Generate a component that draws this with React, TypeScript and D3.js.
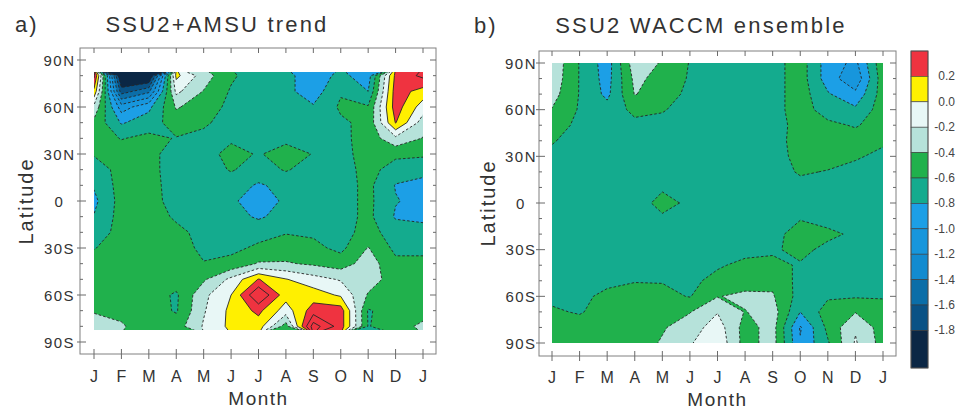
import React, { useEffect, useRef } from "react";
import * as d3 from "d3";

const monthLabels = ["J", "F", "M", "A", "M", "J", "J", "A", "S", "O", "N", "D", "J"];
const latTickValues = [90, 60, 30, 0, -30, -60, -90];
const latTickLabels = ["90N", "60N", "30N", "0", "30S", "60S", "90S"];
const latMinorTicks = d3.range(90, -91, -10);

// contour levels, and the colour of each band from the lowest up
const levels = [-1.8, -1.6, -1.4, -1.2, -1.0, -0.8, -0.6, -0.4, -0.2, 0.0, 0.2];
const extraLines = [0.4, 0.6];
const bandColors = [
  "#0b2745", "#0a5285", "#0b6ea8", "#128bd0", "#1796dc", "#1c9fe6",
  "#14ab8e", "#20b14c", "#b6e2da", "#e8f7f6", "#fff000", "#ef3340",
];
const barLabels = ["0.2", "0.0", "-0.2", "-0.4", "-0.6", "-0.8", "-1.0", "-1.2", "-1.4", "-1.6", "-1.8"];

// a) SSU2+AMSU trend, rows 80N..80S, columns J..J
const latsA = [80, 70, 60, 50, 40, 30, 20, 10, 0, -10, -20, -30, -40, -50, -60, -70, -80];
const trendA = [
  [0.45, -2.1, -2.1, 0.05, -0.3, -0.57, -0.7, -0.75, -0.9, -0.75, -0.9, 0.25, 0.45],
  [0.15, -1.7, -1.45, -0.15, -0.41, -0.62, -0.7, -0.75, -0.9, -0.62, -0.8, 0.3, 0.12],
  [-0.25, -1.1, -0.85, -0.38, -0.5, -0.65, -0.7, -0.75, -0.78, -0.57, -0.58, 0.3, -0.1],
  [-0.45, -0.82, -0.7, -0.5, -0.57, -0.68, -0.7, -0.7, -0.72, -0.63, -0.55, 0.21, -0.3],
  [-0.5, -0.61, -0.55, -0.61, -0.65, -0.64, -0.7, -0.66, -0.7, -0.65, -0.52, -0.25, -0.41],
  [-0.58, -0.5, -0.5, -0.75, -0.7, -0.52, -0.62, -0.5, -0.61, -0.68, -0.5, -0.55, -0.57],
  [-0.72, -0.52, -0.5, -0.75, -0.72, -0.58, -0.7, -0.58, -0.7, -0.7, -0.52, -0.7, -0.72],
  [-0.78, -0.52, -0.5, -0.72, -0.72, -0.72, -0.82, -0.75, -0.7, -0.68, -0.55, -0.81, -0.88],
  [-0.85, -0.52, -0.5, -0.7, -0.72, -0.75, -0.95, -0.75, -0.7, -0.68, -0.55, -0.79, -0.85],
  [-0.79, -0.52, -0.5, -0.63, -0.7, -0.72, -0.83, -0.72, -0.7, -0.68, -0.55, -0.82, -0.85],
  [-0.72, -0.52, -0.5, -0.55, -0.66, -0.68, -0.66, -0.61, -0.63, -0.68, -0.52, -0.7, -0.72],
  [-0.61, -0.5, -0.5, -0.5, -0.65, -0.64, -0.57, -0.52, -0.55, -0.65, -0.39, -0.65, -0.65],
  [-0.5, -0.5, -0.5, -0.5, -0.59, -0.55, -0.38, -0.38, -0.43, -0.5, -0.3, -0.55, -0.55],
  [-0.5, -0.5, -0.5, -0.5, -0.43, -0.15, 0.21, 0.01, -0.12, -0.22, -0.3, -0.5, -0.5],
  [-0.5, -0.5, -0.5, -0.63, -0.25, 0.0, 0.6, 0.08, 0.1, -0.03, -0.42, -0.52, -0.5],
  [-0.42, -0.45, -0.5, -0.62, -0.22, 0.05, 0.25, -0.1, 0.3, 0.3, -0.62, -0.5, -0.5],
  [-0.3, -0.38, -0.5, -0.5, -0.18, 0.05, 0.1, -0.5, 0.7, 0.3, -0.61, -0.5, -0.35],
];

// b) SSU2 WACCM ensemble, rows 90N..90S, columns J..J
const latsB = [90, 80, 70, 60, 50, 40, 30, 20, 10, 0, -10, -20, -30, -40, -50, -60, -70, -80, -90];
const waccmB = [
  [-0.25, -0.61, -0.9, -0.28, -0.42, -0.61, -0.7, -0.7, -0.68, -0.5, -0.9, -1.05, -0.45],
  [-0.27, -0.61, -0.88, -0.35, -0.47, -0.62, -0.7, -0.7, -0.68, -0.5, -0.9, -1.15, -0.48],
  [-0.32, -0.61, -0.85, -0.39, -0.5, -0.65, -0.7, -0.7, -0.68, -0.5, -0.78, -0.95, -0.5],
  [-0.41, -0.62, -0.72, -0.55, -0.58, -0.7, -0.7, -0.7, -0.68, -0.5, -0.7, -0.76, -0.5],
  [-0.5, -0.65, -0.7, -0.65, -0.68, -0.7, -0.7, -0.7, -0.66, -0.55, -0.55, -0.62, -0.5],
  [-0.58, -0.7, -0.7, -0.7, -0.7, -0.7, -0.7, -0.7, -0.68, -0.52, -0.5, -0.5, -0.56],
  [-0.66, -0.7, -0.7, -0.7, -0.7, -0.7, -0.7, -0.7, -0.68, -0.54, -0.53, -0.57, -0.66],
  [-0.7, -0.7, -0.7, -0.7, -0.7, -0.7, -0.7, -0.7, -0.68, -0.58, -0.61, -0.68, -0.7],
  [-0.7, -0.7, -0.7, -0.7, -0.64, -0.7, -0.7, -0.7, -0.7, -0.66, -0.68, -0.7, -0.7],
  [-0.7, -0.7, -0.7, -0.75, -0.5, -0.66, -0.7, -0.7, -0.7, -0.68, -0.7, -0.7, -0.7],
  [-0.7, -0.7, -0.7, -0.7, -0.65, -0.7, -0.7, -0.7, -0.68, -0.61, -0.68, -0.7, -0.7],
  [-0.7, -0.7, -0.7, -0.7, -0.7, -0.7, -0.7, -0.68, -0.66, -0.52, -0.55, -0.64, -0.7],
  [-0.7, -0.7, -0.7, -0.69, -0.68, -0.67, -0.66, -0.65, -0.63, -0.54, -0.66, -0.7, -0.7],
  [-0.7, -0.68, -0.65, -0.63, -0.62, -0.62, -0.62, -0.56, -0.55, -0.62, -0.68, -0.7, -0.7],
  [-0.68, -0.66, -0.63, -0.61, -0.61, -0.64, -0.55, -0.5, -0.45, -0.66, -0.7, -0.7, -0.68],
  [-0.65, -0.63, -0.57, -0.52, -0.55, -0.61, -0.41, -0.35, -0.38, -0.68, -0.63, -0.62, -0.62],
  [-0.57, -0.62, -0.5, -0.5, -0.48, -0.41, -0.21, -0.41, -0.3, -0.8, -0.5, -0.41, -0.5],
  [-0.5, -0.5, -0.5, -0.5, -0.42, -0.3, -0.1, -0.48, -0.32, -1.02, -0.55, -0.22, -0.5],
  [-0.5, -0.5, -0.5, -0.5, -0.38, -0.22, -0.05, -0.48, -0.32, -0.98, -0.62, -0.18, -0.48],
];

const FONT = '"Liberation Sans", Arial, sans-serif';

const panels = [
  {
    key: "a", letter: "a)", title: "SSU2+AMSU trend", letterX: 15, titleX: 217, titleY: 32,
    frame: { x0: 80, x1: 436, y0: 48, y1: 354 },
    xJan: 94, xJan2: 423, y90N: 60, y90S: 342, clipTop: 82.5, clipBottom: -82.5,
    labelX: 59.5, monthY: 382, monthTitleY: 405,
    lats: latsA, grid: trendA,
  },
  {
    key: "b", letter: "b)", title: "SSU2 WACCM ensemble", letterX: 474, titleX: 701, titleY: 33,
    frame: { x0: 539, x1: 896, y0: 51, y1: 356 },
    xJan: 552, xJan2: 883, y90N: 63, y90S: 343, clipTop: 90, clipBottom: -90,
    labelX: 521, monthY: 383, monthTitleY: 406,
    lats: latsB, grid: waccmB,
  },
];

function drawPanel(svg: any, p: any) {
  const x = d3.scaleLinear().domain([0, 12]).range([p.xJan, p.xJan2]);
  const y = d3.scaleLinear().domain([90, -90]).range([p.y90N, p.y90S]);
  const nx = p.grid[0].length;
  const ny = p.grid.length;
  const values = p.grid.flat();

  // d3.contours puts sample i at grid coordinate i + 0.5
  const gx = d3.scaleLinear().domain([0.5, nx - 0.5]).range([x(0), x(12)]);
  const gy = d3.scaleLinear().domain([0.5, ny - 0.5]).range([y(p.lats[0]), y(p.lats[ny - 1])]);
  const path = d3.geoPath(
    d3.geoTransform({
      point(a: number, b: number) {
        this.stream.point(gx(a), gy(b));
      },
    })
  );

  // whole pixels, so the edge of the field is crisp
  const cx0 = Math.round(x(0));
  const cx1 = Math.round(x(12));
  const cy0 = Math.round(y(p.clipTop));
  const cy1 = Math.round(y(p.clipBottom));

  const g = svg.append("g");
  const clipId = `clip-${p.key}`;
  g.append("clipPath")
    .attr("id", clipId)
    .append("rect")
    .attr("x", cx0)
    .attr("y", cy0)
    .attr("width", cx1 - cx0)
    .attr("height", cy1 - cy0);

  const plot = g.append("g").attr("clip-path", `url(#${clipId})`);

  plot.append("rect")
    .attr("x", cx0 - 2)
    .attr("y", cy0 - 2)
    .attr("width", cx1 - cx0 + 4)
    .attr("height", cy1 - cy0 + 4)
    .attr("fill", bandColors[0]);

  const fills = d3.contours().size([nx, ny]).thresholds(levels)(values);
  plot.selectAll("path.band")
    .data(fills)
    .enter()
    .append("path")
    .attr("class", "band")
    .attr("d", (d: any) => path(d))
    .attr("fill", (_d: any, i: number) => bandColors[i + 1]);

  const lines = d3.contours().size([nx, ny]).thresholds([...levels, ...extraLines])(values);
  plot.selectAll("path.iso")
    .data(lines)
    .enter()
    .append("path")
    .attr("class", "iso")
    .attr("d", (d: any) => path(d))
    .attr("fill", "none")
    .attr("stroke", "#262626")
    .attr("stroke-width", 0.9)
    .attr("stroke-dasharray", (d: any) => (d.value < -1e-6 ? "2.6,2" : null));

  // frame and ticks
  const f = p.frame;
  g.append("rect")
    .attr("x", f.x0)
    .attr("y", f.y0)
    .attr("width", f.x1 - f.x0)
    .attr("height", f.y1 - f.y0)
    .attr("fill", "none")
    .attr("stroke", "#808080")
    .attr("stroke-width", 1);

  const ticks = g.append("g").attr("stroke", "#6a6a6a").attr("stroke-width", 1);
  d3.range(13).forEach((m) => {
    ticks.append("line").attr("x1", x(m)).attr("x2", x(m)).attr("y1", f.y0).attr("y2", f.y0 + 5);
    ticks.append("line").attr("x1", x(m)).attr("x2", x(m)).attr("y1", f.y1 - 5).attr("y2", f.y1 + 5);
  });
  latMinorTicks.forEach((lat) => {
    const major = lat % 30 === 0;
    ticks.append("line")
      .attr("x1", major ? f.x0 - 3 : f.x0).attr("x2", f.x0 + (major ? 6 : 3))
      .attr("y1", y(lat)).attr("y2", y(lat));
    ticks.append("line")
      .attr("x1", f.x1 - (major ? 6 : 3)).attr("x2", f.x1)
      .attr("y1", y(lat)).attr("y2", y(lat));
  });

  // text
  const text = g.append("g").style("font-family", FONT).attr("fill", "#333");
  latTickValues.forEach((lat, i) => {
    text.append("text")
      .attr("x", p.labelX)
      .attr("y", y(lat) + 5.5)
      .attr("text-anchor", "middle")
      .style("font-size", "15px")
      .style("letter-spacing", "1.5px")
      .text(latTickLabels[i]);
  });
  monthLabels.forEach((m, i) => {
    text.append("text")
      .attr("x", x(i))
      .attr("y", p.monthY)
      .attr("text-anchor", "middle")
      .style("font-size", "16px")
      .text(m);
  });
  text.append("text")
    .attr("x", (x(0) + x(12)) / 2)
    .attr("y", p.monthTitleY)
    .attr("text-anchor", "middle")
    .style("font-size", "19px")
    .style("letter-spacing", "1.5px")
    .text("Month");
  text.append("text")
    .attr("transform", `translate(${p.labelX - 26.5},${(y(90) + y(-90)) / 2}) rotate(-90)`)
    .attr("text-anchor", "middle")
    .style("font-size", "20px")
    .style("letter-spacing", "2px")
    .text("Latitude");
  text.append("text")
    .attr("x", p.letterX)
    .attr("y", p.titleY)
    .style("font-size", "22px")
    .style("letter-spacing", "2px")
    .text(p.letter);
  text.append("text")
    .attr("x", p.titleX)
    .attr("y", p.titleY)
    .attr("text-anchor", "middle")
    .style("font-size", "22px")
    .style("letter-spacing", "2.2px")
    .text(p.title);
}

function drawColorbar(svg: any) {
  const top = 51;
  const step = 25.4;
  const bottom = 368;
  const x0 = 911;
  const w = 17;
  const g = svg.append("g");
  // bands from the top (red) down to the darkest blue
  const order = bandColors.slice().reverse();
  order.forEach((c, i) => {
    const y0 = top + i * step;
    const y1 = i === order.length - 1 ? bottom : top + (i + 1) * step;
    g.append("rect")
      .attr("x", x0)
      .attr("y", y0)
      .attr("width", w)
      .attr("height", y1 - y0)
      .attr("fill", c)
      .attr("stroke", "#3a3a3a")
      .attr("stroke-width", 0.6);
  });
  g.append("rect")
    .attr("x", x0)
    .attr("y", top)
    .attr("width", w)
    .attr("height", bottom - top)
    .attr("fill", "none")
    .attr("stroke", "#555")
    .attr("stroke-width", 0.8);
  barLabels.forEach((lab, i) => {
    g.append("text")
      .attr("x", 955)
      .attr("y", top + (i + 1) * step + 4)
      .attr("text-anchor", "end")
      .style("font-family", FONT)
      .style("font-size", "12px")
      .attr("fill", "#444")
      .text(lab);
  });
}

const App = () => {
  const svgRef = useRef<SVGSVGElement>(null);

  useEffect(() => {
    if (!svgRef.current) return;
    const svg = d3.select(svgRef.current);
    svg.selectAll("*").remove();
    panels.forEach((p) => drawPanel(svg, p));
    drawColorbar(svg);
  }, []);

  return (
    <svg
      ref={svgRef}
      width={963}
      height={410}
      style={{ position: "absolute", left: 0, top: 0, background: "#fff" }}
    />
  );
};

export default App;
